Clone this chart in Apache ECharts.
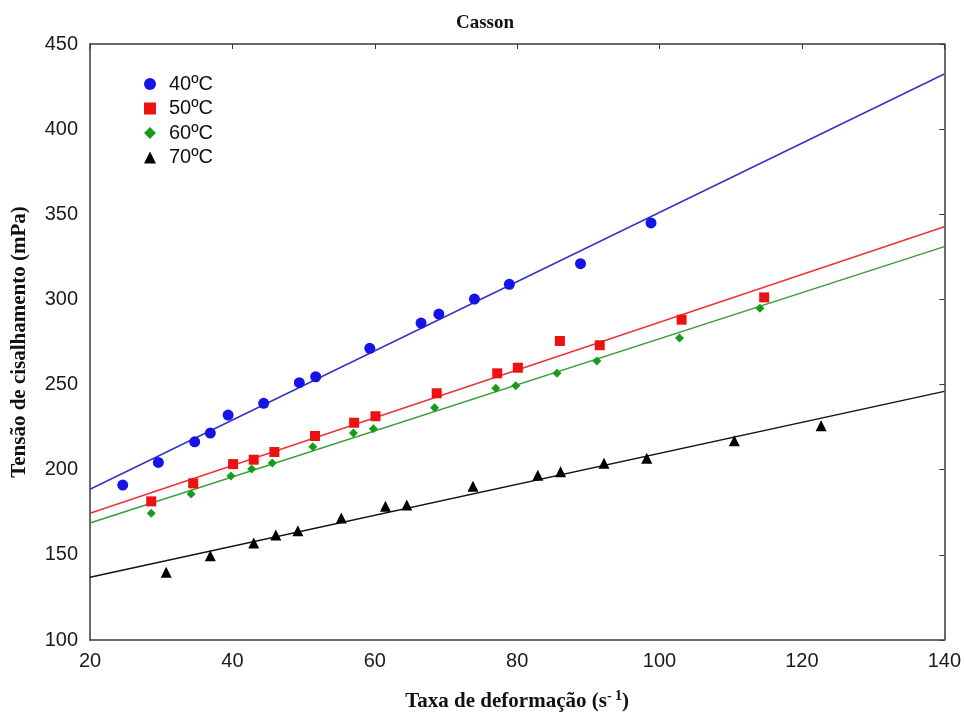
<!DOCTYPE html>
<html>
<head>
<meta charset="utf-8">
<title>Casson</title>
<script src="https://cdn.jsdelivr.net/npm/echarts@6/dist/echarts.min.js"></script>
<style>
  html, body { margin: 0; padding: 0; background: #fff; }
  #chart { width: 964px; height: 717px; }
</style>
</head>
<body>
<div id="chart"></div>
<script>
// Shear stress vs. shear rate at four temperatures, with Casson model fits.
var seriesNames = ['40ºC', '50ºC', '60ºC', '70ºC'];

var rate40 = [24.6, 29.6, 34.7, 36.9, 39.4, 44.4, 49.4, 51.7, 59.3, 66.5, 69.0, 74.0, 78.9, 88.9, 98.8];
var stress40 = [191.0, 204.3, 216.4, 221.5, 232.1, 239.0, 251.1, 254.6, 271.3, 286.1, 291.4, 300.2, 308.9, 321.0, 344.9];

var rate50 = [28.6, 34.5, 40.1, 43.0, 45.9, 51.6, 57.1, 60.1, 68.7, 77.2, 80.1, 86.0, 91.6, 103.1, 114.7];
var stress50 = [181.4, 192.0, 203.3, 205.9, 210.4, 219.8, 227.6, 231.4, 244.9, 256.6, 259.9, 275.6, 273.1, 288.1, 301.2];

var rate60 = [28.6, 34.2, 39.8, 42.7, 45.6, 51.3, 57.0, 59.8, 68.4, 77.0, 79.8, 85.6, 91.2, 102.8, 114.1];
var stress60 = [174.4, 185.7, 196.3, 200.4, 203.9, 213.5, 221.5, 224.1, 236.4, 247.8, 249.3, 256.6, 263.8, 277.3, 294.8];

var rate70 = [30.7, 36.9, 43.0, 46.1, 49.2, 55.3, 61.5, 64.5, 73.8, 82.9, 86.1, 92.2, 98.2, 110.5, 122.7];
var stress70 = [139.8, 149.5, 157.0, 161.7, 164.2, 171.6, 178.5, 179.3, 190.3, 196.7, 198.8, 203.8, 206.7, 217.0, 225.8];

// Fitted curves, sampled at the ends of the shear-rate range
var fitRate = [20, 140];
var fit40 = [188.5, 432.4];
var fit50 = [174.4, 342.7];
var fit60 = [168.7, 331.0];
var fit70 = [136.8, 246.0];

var xTicks = { min: 20, max: 140, interval: 20 };
var yTicks = { min: 100, max: 450, interval: 50 };

function pairs(xs, ys) {
  return xs.map(function (x, i) { return [x, ys[i]]; });
}

var markerColors = ['#1414e6', '#ee1111', '#1a9a1a', '#000000'];
var lineColors = ['#3333c4', '#ee3333', '#3a9e3a', '#111111'];
var symbols = ['circle', 'rect', 'diamond', 'triangle'];
var symbolSizes = [11, 10, 9, 11];
var rates = [rate40, rate50, rate60, rate70];
var stresses = [stress40, stress50, stress60, stress70];
var fits = [fit40, fit50, fit60, fit70];

var frame = { show: true, lineStyle: { color: '#3a3a3a', width: 1.5 } };
var tickFont = { fontFamily: 'Liberation Sans', fontSize: 20, color: '#1a1a1a' };
var nameFont = { fontFamily: 'Liberation Serif', fontWeight: 'bold', fontSize: 21, color: '#111' };

var series = [];
for (var i = 0; i < 4; i++) {
  series.push({
    type: 'line',
    silent: true,
    showSymbol: false,
    z: 2,
    data: pairs(fitRate, fits[i]),
    lineStyle: { color: lineColors[i], width: 1.5 }
  });
}
for (var j = 0; j < 4; j++) {
  series.push({
    name: seriesNames[j],
    type: 'scatter',
    z: 3,
    symbol: symbols[j],
    symbolSize: symbolSizes[j],
    itemStyle: { color: markerColors[j], opacity: 1 },
    data: pairs(rates[j], stresses[j])
  });
}

var chart = echarts.init(document.getElementById('chart'), null, { renderer: 'canvas' });
chart.setOption({
  animation: false,
  backgroundColor: '#ffffff',
  title: {
    text: 'Casson',
    left: 480,
    textAlign: 'center',
    top: 9,
    textStyle: { fontFamily: 'Liberation Serif', fontWeight: 'bold', fontSize: 19, color: '#111' }
  },
  legend: {
    data: seriesNames,
    orient: 'vertical',
    left: 139,
    top: 69,
    itemWidth: 12,
    itemHeight: 12,
    itemGap: 4.5,
    textStyle: { fontFamily: 'Liberation Sans', fontSize: 20, color: '#111', padding: [0, 0, 0, 8] }
  },
  grid: { left: 90, right: 18, top: 44, bottom: 75 },
  xAxis: [
    {
      type: 'value',
      position: 'bottom',
      min: xTicks.min, max: xTicks.max, interval: xTicks.interval,
      axisLine: frame,
      axisTick: { show: false },
      splitLine: { show: false },
      axisLabel: Object.assign({ margin: 11 }, tickFont),
      name: 'Taxa de deformação (s{sup|- 1})',
      nameLocation: 'middle',
      nameGap: 49,
      nameTextStyle: Object.assign({
        rich: { sup: { fontFamily: 'Liberation Serif', fontWeight: 'bold', fontSize: 14, color: '#111', padding: [0, 0, 11, 0] } }
      }, nameFont)
    },
    {
      type: 'value',
      position: 'top',
      min: xTicks.min, max: xTicks.max, interval: xTicks.interval,
      axisLine: frame,
      axisTick: { show: true, inside: true, length: 5, lineStyle: { color: '#3a3a3a', width: 1 } },
      splitLine: { show: false },
      axisLabel: { show: false }
    }
  ],
  yAxis: [
    {
      type: 'value',
      position: 'left',
      min: yTicks.min, max: yTicks.max, interval: yTicks.interval,
      axisLine: frame,
      axisTick: { show: false },
      splitLine: { show: false },
      axisLabel: Object.assign({ margin: 12 }, tickFont),
      name: 'Tensão de cisalhamento (mPa)',
      nameLocation: 'middle',
      nameGap: 60,
      nameTextStyle: nameFont
    },
    {
      type: 'value',
      position: 'right',
      min: yTicks.min, max: yTicks.max, interval: yTicks.interval,
      axisLine: frame,
      axisTick: { show: true, inside: true, length: 5, lineStyle: { color: '#3a3a3a', width: 1 } },
      splitLine: { show: false },
      axisLabel: { show: false }
    }
  ],
  series: series
});
</script>
</body>
</html>
